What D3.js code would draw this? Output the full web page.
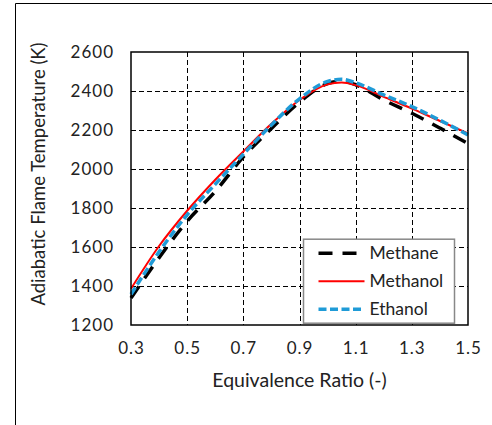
<!DOCTYPE html>
<html>
<head>
<meta charset="utf-8">
<script src="https://cdn.jsdelivr.net/npm/d3@7"></script>
<style>
  body { margin: 0; background: #fff; }
  svg { display: block; font-family: Lato, "Open Sans", sans-serif; }
</style>
</head>
<body>
<svg id="chart" width="492" height="425"></svg>
<script>
const phi = [0.3, 0.4, 0.5, 0.6, 0.7, 0.8, 0.9, 1.0, 1.05, 1.1, 1.2, 1.3, 1.4, 1.5];
const methane = [1338, 1545, 1732, 1885, 2062, 2208, 2343, 2438, 2450, 2432, 2354, 2286, 2210, 2130];
const methanol = [1386, 1605, 1786, 1945, 2090, 2232, 2354, 2434, 2443, 2430, 2370, 2310, 2246, 2183];
const ethanol = [1358, 1575, 1765, 1922, 2076, 2226, 2360, 2449, 2460, 2442, 2380, 2320, 2250, 2175];
const xTicks = [0.3, 0.5, 0.7, 0.9, 1.1, 1.3, 1.5];
const yTicks = [1200, 1400, 1600, 1800, 2000, 2200, 2400, 2600];

const series = [
  { name: "Methane", values: methane, color: "#000000", width: 3.5, dash: "14,10" },
  { name: "Methanol", values: methanol, color: "#ff0000", width: 2, dash: null },
  { name: "Ethanol", values: ethanol, color: "#1f9bd7", width: 3.5, dash: "8,3.5" },
];

const margin = { top: 52, bottom: 100, left: 131, right: 24 };
const svg = d3.select("#chart");
const W = +svg.attr("width");
const H = +svg.attr("height");
const width = W - margin.left - margin.right;
const height = H - margin.top - margin.bottom;

// outer frame (only left and top edges show)
svg.append("path")
  .attr("d", `M15.5,${H} V3.5 H${W}`)
  .attr("fill", "none")
  .attr("stroke", "#000")
  .attr("stroke-width", 1);

const g = svg.append("g").attr("transform", `translate(${margin.left},${margin.top})`);

const xScale = d3.scaleLinear().domain([0.3, 1.5]).range([0, width]);
const yScale = d3.scaleLinear().domain([1200, 2600]).range([height, 0]);

// grid
g.append("g")
  .selectAll("line")
  .data(yTicks.slice(1, -1))
  .join("line")
  .attr("x1", 0).attr("x2", width)
  .attr("y1", (d) => Math.round(yScale(d)) + 0.5)
  .attr("y2", (d) => Math.round(yScale(d)) + 0.5)
  .attr("stroke", "#000").attr("stroke-dasharray", "5,3");

g.append("g")
  .selectAll("line")
  .data(xTicks.slice(1, -1))
  .join("line")
  .attr("y1", 0).attr("y2", height)
  .attr("x1", (d) => Math.round(xScale(d)) + 0.5)
  .attr("x2", (d) => Math.round(xScale(d)) + 0.5)
  .attr("stroke", "#000").attr("stroke-dasharray", "5,3");

// axes (labels only, ticks hidden)
const xAxis = g.append("g")
  .attr("transform", `translate(0,${height})`)
  .call(d3.axisBottom(xScale).tickValues(xTicks).tickFormat(d3.format(".1f")).tickSize(0).tickPadding(17));
const yAxis = g.append("g")
  .call(d3.axisLeft(yScale).tickValues(yTicks).tickFormat(d3.format("d")).tickSize(0).tickPadding(18));
[xAxis, yAxis].forEach((a) => {
  a.select(".domain").remove();
  a.selectAll("text")
    .attr("font-size", 17)
    .attr("letter-spacing", 1)
    .attr("font-family", "Lato, sans-serif")
    .attr("fill", "#222");
});
// letter-spacing pads the end of right-anchored labels, shift back
yAxis.selectAll("text").attr("dx", 1);

// lines
const line = (vals) =>
  d3.line()
    .x((d, i) => xScale(phi[i]))
    .y((d) => yScale(d))
    .curve(d3.curveMonotoneX)(vals);

g.append("g")
  .selectAll("path")
  .data(series)
  .join("path")
  .attr("fill", "none")
  .attr("stroke", (d) => d.color)
  .attr("stroke-width", (d) => d.width)
  .attr("stroke-dasharray", (d) => d.dash)
  .attr("d", (d) => line(d.values));

// plot border
g.append("rect")
  .attr("width", width).attr("height", height)
  .attr("fill", "none").attr("stroke", "#000").attr("stroke-width", 1.5);

// legend
const leg = g.append("g").attr("transform", `translate(${xScale(0.9) + 4},${yScale(1640)})`);
leg.append("rect")
  .attr("width", 151).attr("height", 84)
  .attr("fill", "#fff").attr("stroke", "#888").attr("stroke-width", 1.5);
const item = leg.selectAll("g.item")
  .data(series)
  .join("g")
  .attr("class", "item")
  .attr("transform", (d, i) => `translate(0,${14 + i * 28})`);
item.append("line")
  .attr("x1", 15).attr("x2", 61)
  .attr("stroke", (d) => d.color)
  .attr("stroke-width", (d) => d.width)
  .attr("stroke-dasharray", (d) => d.dash);
item.append("text")
  .attr("x", 66).attr("dy", "0.35em")
  .attr("font-size", 17.5).attr("fill", "#222")
  .text((d) => d.name);

// axis titles
svg.append("text")
  .attr("x", margin.left + width / 2).attr("y", 387)
  .attr("text-anchor", "middle").attr("font-size", 19.5).attr("fill", "#222")
  .text("Equivalence Ratio (-)");
svg.append("text")
  .attr("transform", "translate(45,174) rotate(-90)")
  .attr("text-anchor", "middle").attr("font-size", 18.5).attr("fill", "#222")
  .text("Adiabatic Flame Temperature (K)");
</script>
</body>
</html>
